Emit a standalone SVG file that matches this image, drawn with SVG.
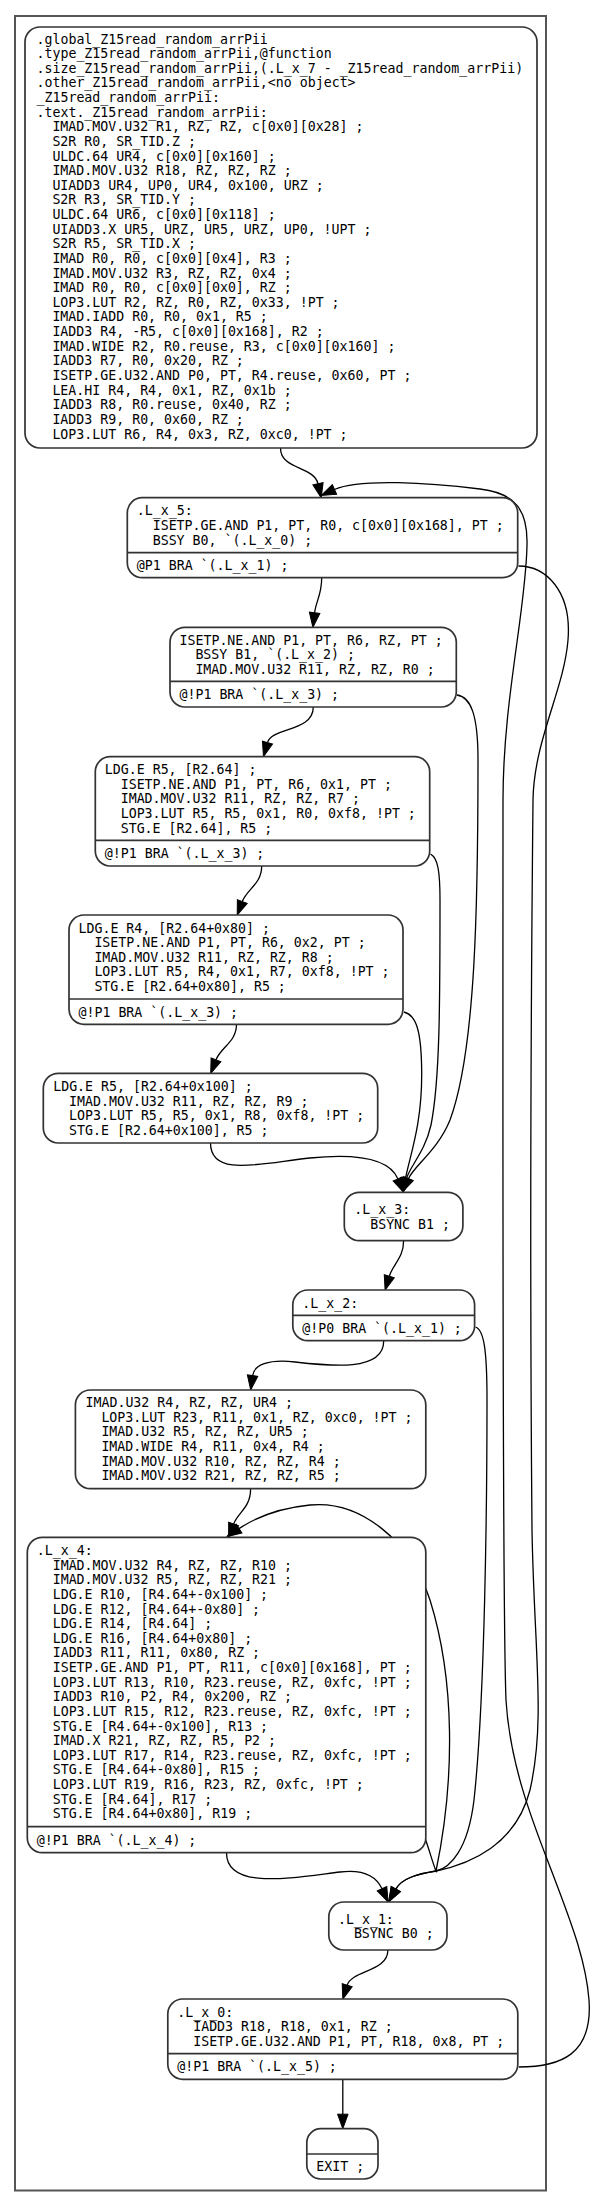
<svg xmlns="http://www.w3.org/2000/svg" width="594" height="2207" viewBox="0 0 594 2207">
<style>
.n{fill:#fff;stroke:#333;stroke-width:1.7}
.s{stroke:#333;stroke-width:1.7}
.t{font-family:"DejaVu Sans Mono",monospace;font-size:13.25px;fill:#000}
.e{fill:none;stroke:#000;stroke-width:1.3;marker-end:url(#ah)}
.f{fill:none;stroke:#555;stroke-width:2}
</style>
<defs>
<marker id="ah" markerUnits="userSpaceOnUse" markerWidth="15" markerHeight="11" refX="0" refY="5.25" orient="auto" overflow="visible"><path d="M0,0 L14.5,5.25 L0,10.5 Z" fill="#000" stroke="#000" stroke-width="1"/></marker>
</defs>
<rect width="594" height="2207" fill="#fff"/>
<rect class="f" x="15" y="16" width="531" height="2174.5"/>

<g id="edges">
<path class="e" d="M280.5,448 C280.5,470 314,466 318,483.7"/>
<path class="e" d="M321.7,577.7 C321.7,595 316,601 314.6,612.8"/>
<path class="e" d="M313.3,707 C313.3,732 272,727 267.5,742.6"/>
<path class="e" d="M261.7,866 C261.7,884 247,889 242.3,901.5"/>
<path class="e" d="M236.5,1024.3 C236.5,1042 221,1047 216,1059.8"/>
<path class="e" d="M210.5,1143 C210.5,1178 262,1163 310,1158 C360,1153 390,1160 398,1179"/>
<path class="e" d="M457,695 C471,697 478,715 478,760 C478,900 476,1050 450,1120 C438,1150 414,1166 408.5,1178.5"/>
<path class="e" d="M430.5,854 C438,858 440,872 440,900 C440,1000 440,1080 431,1125 C425,1152 410,1166 406.5,1178.5"/>
<path class="e" d="M404,1012 C416,1015 421.5,1030 421.7,1073 C422,1125 410,1155 405.5,1178.5"/>
<path class="e" d="M403.6,1240.7 C403.6,1258 393,1264 389.3,1276.2"/>
<path class="e" d="M383.7,1340.7 C384,1372 330,1366 295,1362 C268,1359 254,1365 252.6,1375.6"/>
<path class="e" d="M475.5,1327 C484,1330 487,1350 487,1400 C487,1500 485,1700 474,1800 C468,1850 450,1868 436,1871 C418,1874 402,1878 395.8,1889.1"/>
<path class="e" d="M250.6,1488.7 C250.6,1508 238,1512 233.6,1524"/>
<path class="e" d="M425,1838 C430,1852 433,1864 436,1871 C455,1780 455,1680 430,1600 C410,1540 360,1500 310,1505 C280,1508 255,1518 239,1528.6"/>
<path class="e" d="M226.5,1852.7 C226.5,1890 290,1878 340,1872 C365,1869 377,1878 382,1888.8"/>
<path class="e" d="M518.5,566 C545,566 572,590 568,640 C564,690 534,740 533,800 C531,1000 530,1300 532,1530 C534,1650 546,1720 530,1790 C516,1845 470,1864 436,1871 C418,1874 402,1878 395.8,1889.1"/>
<path class="e" d="M518.8,2067 C560,2067 593,2055 589,2000 C586,1960 570,1920 555,1880 C538,1835 510,1770 506,1700 C502,1600 503,1000 503,800 C503,700 526,610 527,545 C528,510 515,493 480,489 C430,483 360,478 334.5,489.5"/>
<path class="e" d="M387.9,1950 C387.9,1972 352,1970 347.2,1985.2"/>
<path class="e" d="M342.8,2079.3 L342.8,2114.2"/>
</g>

<g id="entry">
<rect class="n" x="25" y="27" width="512" height="421" rx="15"/>
<text class="t">
<tspan x="36.5" y="43.5">.global_Z15read_random_arrPii</tspan>
<tspan x="36.5" y="58.13">.type_Z15read_random_arrPii,@function</tspan>
<tspan x="36.5" y="72.76">.size_Z15read_random_arrPii,(.L_x_7 - _Z15read_random_arrPii)</tspan>
<tspan x="36.5" y="87.39">.other_Z15read_random_arrPii,&lt;no object&gt;</tspan>
<tspan x="36.5" y="102.02">_Z15read_random_arrPii:</tspan>
<tspan x="36.5" y="116.65">.text._Z15read_random_arrPii:</tspan>
<tspan x="52.4" y="131.28">IMAD.MOV.U32 R1, RZ, RZ, c[0x0][0x28] ;</tspan>
<tspan x="52.4" y="145.91">S2R R0, SR_TID.Z ;</tspan>
<tspan x="52.4" y="160.54">ULDC.64 UR4, c[0x0][0x160] ;</tspan>
<tspan x="52.4" y="175.17">IMAD.MOV.U32 R18, RZ, RZ, RZ ;</tspan>
<tspan x="52.4" y="189.8">UIADD3 UR4, UP0, UR4, 0x100, URZ ;</tspan>
<tspan x="52.4" y="204.43">S2R R3, SR_TID.Y ;</tspan>
<tspan x="52.4" y="219.06">ULDC.64 UR6, c[0x0][0x118] ;</tspan>
<tspan x="52.4" y="233.69">UIADD3.X UR5, URZ, UR5, URZ, UP0, !UPT ;</tspan>
<tspan x="52.4" y="248.32">S2R R5, SR_TID.X ;</tspan>
<tspan x="52.4" y="262.95">IMAD R0, R0, c[0x0][0x4], R3 ;</tspan>
<tspan x="52.4" y="277.58">IMAD.MOV.U32 R3, RZ, RZ, 0x4 ;</tspan>
<tspan x="52.4" y="292.21">IMAD R0, R0, c[0x0][0x0], RZ ;</tspan>
<tspan x="52.4" y="306.84">LOP3.LUT R2, RZ, R0, RZ, 0x33, !PT ;</tspan>
<tspan x="52.4" y="321.47">IMAD.IADD R0, R0, 0x1, R5 ;</tspan>
<tspan x="52.4" y="336.1">IADD3 R4, -R5, c[0x0][0x168], R2 ;</tspan>
<tspan x="52.4" y="350.73">IMAD.WIDE R2, R0.reuse, R3, c[0x0][0x160] ;</tspan>
<tspan x="52.4" y="365.36">IADD3 R7, R0, 0x20, RZ ;</tspan>
<tspan x="52.4" y="379.99">ISETP.GE.U32.AND P0, PT, R4.reuse, 0x60, PT ;</tspan>
<tspan x="52.4" y="394.62">LEA.HI R4, R4, 0x1, RZ, 0x1b ;</tspan>
<tspan x="52.4" y="409.25">IADD3 R8, R0.reuse, 0x40, RZ ;</tspan>
<tspan x="52.4" y="423.88">IADD3 R9, R0, 0x60, RZ ;</tspan>
<tspan x="52.4" y="438.51">LOP3.LUT R6, R4, 0x3, RZ, 0xc0, !PT ;</tspan>
</text>
</g>

<g id="L_x_5">
<rect class="n" x="127.3" y="497.7" width="390.4" height="80" rx="15"/>
<line class="s" x1="127.3" y1="552.7" x2="517.7" y2="552.7"/>
<text class="t">
<tspan x="136.8" y="515.4">.L_x_5:</tspan>
<tspan x="152.7" y="530">ISETP.GE.AND P1, PT, R0, c[0x0][0x168], PT ;</tspan>
<tspan x="152.7" y="544.6">BSSY B0, `(.L_x_0) ;</tspan>
<tspan x="136.8" y="570">@P1 BRA `(.L_x_1) ;</tspan>
</text>
</g>

<g id="B_isetp_ne">
<rect class="n" x="170" y="627.3" width="286.3" height="79.7" rx="15"/>
<line class="s" x1="170" y1="681.3" x2="456.3" y2="681.3"/>
<text class="t">
<tspan x="179.5" y="644.5">ISETP.NE.AND P1, PT, R6, RZ, PT ;</tspan>
<tspan x="195.4" y="659.1">BSSY B1, `(.L_x_2) ;</tspan>
<tspan x="195.4" y="673.7">IMAD.MOV.U32 R11, RZ, RZ, R0 ;</tspan>
<tspan x="179.5" y="699">@!P1 BRA `(.L_x_3) ;</tspan>
</text>
</g>

<g id="B_ldg_r5">
<rect class="n" x="95.3" y="756.7" width="334.4" height="109.3" rx="15"/>
<line class="s" x1="95.3" y1="840.3" x2="429.7" y2="840.3"/>
<text class="t">
<tspan x="104.8" y="774">LDG.E R5, [R2.64] ;</tspan>
<tspan x="120.7" y="788.6">ISETP.NE.AND P1, PT, R6, 0x1, PT ;</tspan>
<tspan x="120.7" y="803.3">IMAD.MOV.U32 R11, RZ, RZ, R7 ;</tspan>
<tspan x="120.7" y="817.9">LOP3.LUT R5, R5, 0x1, R0, 0xf8, !PT ;</tspan>
<tspan x="120.7" y="832.5">STG.E [R2.64], R5 ;</tspan>
<tspan x="104.8" y="858">@!P1 BRA `(.L_x_3) ;</tspan>
</text>
</g>

<g id="B_ldg_r4">
<rect class="n" x="69" y="915" width="334" height="109.3" rx="15"/>
<line class="s" x1="69" y1="999" x2="403" y2="999"/>
<text class="t">
<tspan x="78.5" y="932.5">LDG.E R4, [R2.64+0x80] ;</tspan>
<tspan x="94.4" y="947.1">ISETP.NE.AND P1, PT, R6, 0x2, PT ;</tspan>
<tspan x="94.4" y="961.8">IMAD.MOV.U32 R11, RZ, RZ, R8 ;</tspan>
<tspan x="94.4" y="976.4">LOP3.LUT R5, R4, 0x1, R7, 0xf8, !PT ;</tspan>
<tspan x="94.4" y="991">STG.E [R2.64+0x80], R5 ;</tspan>
<tspan x="78.5" y="1016.5">@!P1 BRA `(.L_x_3) ;</tspan>
</text>
</g>

<g id="B_ldg_r5_100">
<rect class="n" x="43.3" y="1073.3" width="334.4" height="69.7" rx="15"/>
<text class="t">
<tspan x="53.2" y="1091">LDG.E R5, [R2.64+0x100] ;</tspan>
<tspan x="69.1" y="1105.6">IMAD.MOV.U32 R11, RZ, RZ, R9 ;</tspan>
<tspan x="69.1" y="1120.3">LOP3.LUT R5, R5, 0x1, R8, 0xf8, !PT ;</tspan>
<tspan x="69.1" y="1134.9">STG.E [R2.64+0x100], R5 ;</tspan>
</text>
</g>

<g id="L_x_3">
<rect class="n" x="344.3" y="1192.3" width="118.6" height="48.4" rx="15"/>
<text class="t">
<tspan x="354.3" y="1214">.L_x_3:</tspan>
<tspan x="370.2" y="1228.6">BSYNC B1 ;</tspan>
</text>
</g>

<g id="L_x_2">
<rect class="n" x="292.8" y="1290" width="181.8" height="50.7" rx="15"/>
<line class="s" x1="292.8" y1="1315.3" x2="474.6" y2="1315.3"/>
<text class="t">
<tspan x="302.3" y="1307.5">.L_x_2:</tspan>
<tspan x="302.3" y="1332.8">@!P0 BRA `(.L_x_1) ;</tspan>
</text>
</g>

<g id="B_imad_u32">
<rect class="n" x="75.4" y="1390" width="350.4" height="98.7" rx="15"/>
<text class="t">
<tspan x="85.5" y="1407">IMAD.U32 R4, RZ, RZ, UR4 ;</tspan>
<tspan x="101.4" y="1421.6">LOP3.LUT R23, R11, 0x1, RZ, 0xc0, !PT ;</tspan>
<tspan x="101.4" y="1436.3">IMAD.U32 R5, RZ, RZ, UR5 ;</tspan>
<tspan x="101.4" y="1450.9">IMAD.WIDE R4, R11, 0x4, R4 ;</tspan>
<tspan x="101.4" y="1465.5">IMAD.MOV.U32 R10, RZ, RZ, R4 ;</tspan>
<tspan x="101.4" y="1480.2">IMAD.MOV.U32 R21, RZ, RZ, R5 ;</tspan>
</text>
</g>

<g id="L_x_4">
<rect class="n" x="27.3" y="1537.3" width="398.5" height="315.4" rx="15"/>
<line class="s" x1="27.3" y1="1826.7" x2="425.8" y2="1826.7"/>
<text class="t">
<tspan x="36.8" y="1555">.L_x_4:</tspan>
<tspan x="52.7" y="1569.63">IMAD.MOV.U32 R4, RZ, RZ, R10 ;</tspan>
<tspan x="52.7" y="1584.26">IMAD.MOV.U32 R5, RZ, RZ, R21 ;</tspan>
<tspan x="52.7" y="1598.89">LDG.E R10, [R4.64+-0x100] ;</tspan>
<tspan x="52.7" y="1613.52">LDG.E R12, [R4.64+-0x80] ;</tspan>
<tspan x="52.7" y="1628.15">LDG.E R14, [R4.64] ;</tspan>
<tspan x="52.7" y="1642.78">LDG.E R16, [R4.64+0x80] ;</tspan>
<tspan x="52.7" y="1657.41">IADD3 R11, R11, 0x80, RZ ;</tspan>
<tspan x="52.7" y="1672.04">ISETP.GE.AND P1, PT, R11, c[0x0][0x168], PT ;</tspan>
<tspan x="52.7" y="1686.67">LOP3.LUT R13, R10, R23.reuse, RZ, 0xfc, !PT ;</tspan>
<tspan x="52.7" y="1701.3">IADD3 R10, P2, R4, 0x200, RZ ;</tspan>
<tspan x="52.7" y="1715.93">LOP3.LUT R15, R12, R23.reuse, RZ, 0xfc, !PT ;</tspan>
<tspan x="52.7" y="1730.56">STG.E [R4.64+-0x100], R13 ;</tspan>
<tspan x="52.7" y="1745.19">IMAD.X R21, RZ, RZ, R5, P2 ;</tspan>
<tspan x="52.7" y="1759.82">LOP3.LUT R17, R14, R23.reuse, RZ, 0xfc, !PT ;</tspan>
<tspan x="52.7" y="1774.45">STG.E [R4.64+-0x80], R15 ;</tspan>
<tspan x="52.7" y="1789.08">LOP3.LUT R19, R16, R23, RZ, 0xfc, !PT ;</tspan>
<tspan x="52.7" y="1803.71">STG.E [R4.64], R17 ;</tspan>
<tspan x="52.7" y="1818.34">STG.E [R4.64+0x80], R19 ;</tspan>
<tspan x="36.8" y="1844.5">@!P1 BRA `(.L_x_4) ;</tspan>
</text>
</g>

<g id="L_x_1">
<rect class="n" x="328.8" y="1902" width="118.2" height="48" rx="15"/>
<text class="t">
<tspan x="338" y="1923.5">.L_x_1:</tspan>
<tspan x="353.9" y="1938.1">BSYNC B0 ;</tspan>
</text>
</g>

<g id="L_x_0">
<rect class="n" x="167.8" y="1999" width="350" height="80.3" rx="15"/>
<line class="s" x1="167.8" y1="2053.7" x2="517.8" y2="2053.7"/>
<text class="t">
<tspan x="177.3" y="2016.5">.L_x_0:</tspan>
<tspan x="193.2" y="2031.1">IADD3 R18, R18, 0x1, RZ ;</tspan>
<tspan x="193.2" y="2045.8">ISETP.GE.U32.AND P1, PT, R18, 0x8, PT ;</tspan>
<tspan x="177.3" y="2071.3">@!P1 BRA `(.L_x_5) ;</tspan>
</text>
</g>

<g id="EXIT">
<rect class="n" x="306.8" y="2128.7" width="71.2" height="50.3" rx="14"/>
<line class="s" x1="306.8" y1="2154" x2="378" y2="2154"/>
<text class="t"><tspan x="316.3" y="2171.3">EXIT ;</tspan></text>
</g>
</svg>
